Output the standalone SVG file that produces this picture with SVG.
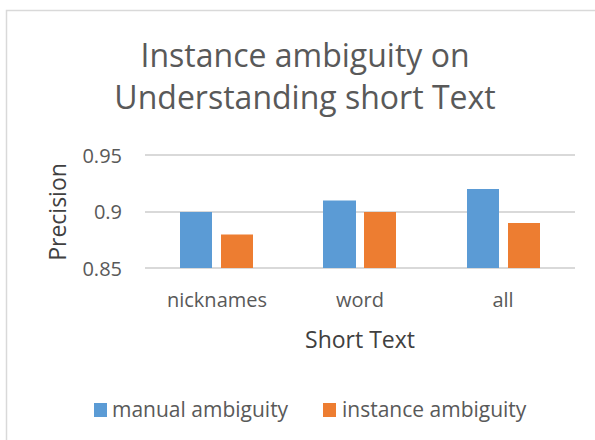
<svg xmlns="http://www.w3.org/2000/svg" width="595" height="440" viewBox="0 0 595 440">
  <style>
    text { font-family: "Open Sans", "Noto Sans", sans-serif; fill: #595959; }
    .title { font-size: 32px; text-anchor: middle; }
    .tick { font-size: 20px; text-anchor: end; }
    .cat { font-size: 20px; text-anchor: middle; }
    .axis { font-size: 23px; fill: #404040; text-anchor: middle; }
    .legend { font-size: 21px; }
    .grid { stroke: #d9d9d9; stroke-width: 2; }
    .blue { fill: #5b9bd5; }
    .orange { fill: #ed7d31; }
  </style>
  <rect x="0" y="0" width="595" height="440" fill="#ffffff"/>
  <!-- chart area frame -->
  <rect x="6.5" y="10.5" width="600" height="440" fill="#ffffff" stroke="#d9d9d9" stroke-width="1.5"/>

  <g id="title">
    <text class="title" x="305" y="67">Instance ambiguity on</text>
    <text class="title" x="305" y="109">Understanding short Text</text>
  </g>

  <g id="gridlines">
    <line class="grid" x1="145" y1="155" x2="575" y2="155"/>
    <line class="grid" x1="145" y1="212" x2="575" y2="212"/>
    <line class="grid" x1="145" y1="268" x2="575" y2="268"/>
  </g>

  <g id="y-axis">
    <text class="tick" x="122" y="163">0.95</text>
    <text class="tick" x="122" y="219">0.9</text>
    <text class="tick" x="122" y="276">0.85</text>
    <text class="axis" transform="translate(66,212) rotate(-90)">Precision</text>
  </g>

  <g id="bars">
    <rect class="blue" x="180" y="212" width="32" height="56"/>
    <rect class="orange" x="221" y="234.5" width="32" height="33.5"/>
    <rect class="blue" x="323" y="200.5" width="33" height="67.5"/>
    <rect class="orange" x="364" y="212" width="32" height="56"/>
    <rect class="blue" x="467" y="189" width="32" height="79"/>
    <rect class="orange" x="508" y="223" width="32" height="45"/>
  </g>

  <g id="x-axis">
    <text class="cat" x="217" y="307">nicknames</text>
    <text class="cat" x="360" y="307">word</text>
    <text class="cat" x="503" y="307">all</text>
    <text class="axis" x="360" y="348">Short Text</text>
  </g>

  <g id="legend">
    <rect class="blue" x="94" y="403" width="13" height="14"/>
    <text class="legend" x="112" y="417">manual ambiguity</text>
    <rect class="orange" x="323" y="403" width="13" height="14"/>
    <text class="legend" x="342" y="417">instance ambiguity</text>
  </g>
</svg>
